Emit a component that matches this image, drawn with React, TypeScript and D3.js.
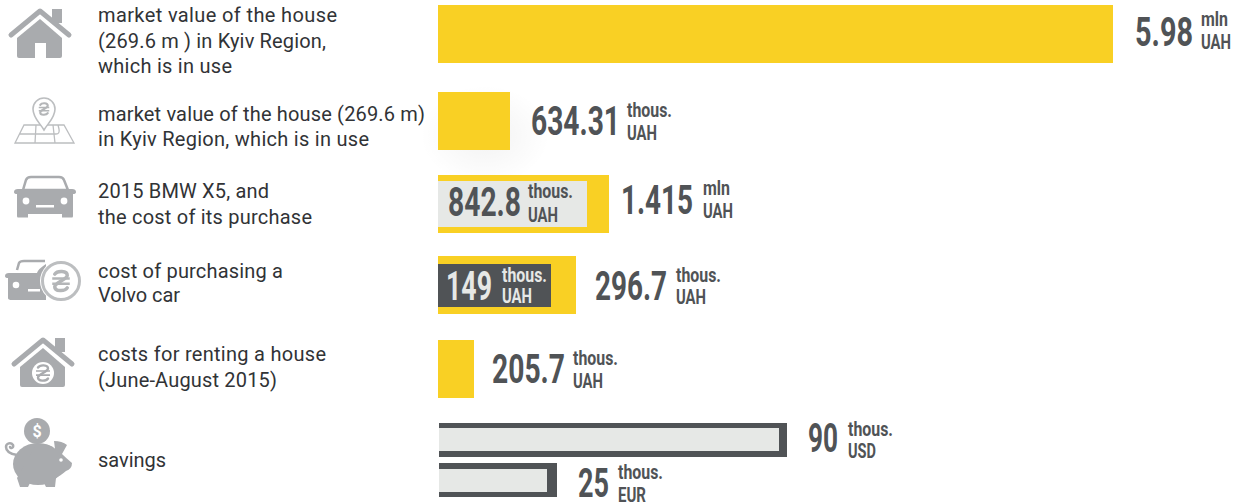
import React from "react";
import * as d3 from "d3";

// ---- data ----
const rowLabels = [
  ["market value of the house", "(269.6 m ) in Kyiv Region,", "which is in use"],
  ["market value of the house (269.6 m)", "in Kyiv Region, which is in use"],
  ["2015 BMW X5, and", "the cost of its purchase"],
  ["cost of purchasing a", "Volvo car"],
  ["costs for renting a house", "(June-August 2015)"],
  ["savings"],
];
// the source graphic's bars are not to scale: these are drawn lengths
const mainLengths = [675, 72, 171, 138, 36];
const mainValues = ["5.98", "634.31", "1.415", "296.7", "205.7"];
const mainUnits = ["mln", "thous.", "mln", "thous.", "thous."];
const insetLengths = [149, 113];
const insetValues = ["842.8", "149"];
const savingsLengths = [348, 118];
const savingsValues = ["90", "25"];
const savingsCurrencies = ["USD", "EUR"];

// ---- styling and layout ----
const YELLOW = "#f9d024";
const DARK = "#505356";
const LIGHT = "#e6e8e6";
const ICON = "#a9abae";
const TEXT = "#313336";
const SANS = "Roboto, 'Noto Sans', sans-serif";
const NARROW = "'Liberation Sans Narrow', 'Roboto', sans-serif";

const x = d3.scaleLinear().domain([0, 675]).range([438, 1113]);
const rowY = d3.scaleLinear().domain([0, 1, 2, 3, 4]).range([5, 92, 175, 256, 340]);
const BAR_H = 58;

const labelBaselines = [[22, 47.5, 73], [121, 146], [198, 224], [278, 302], [361, 387], [467]];
const labelWidths = [
  [239, 228, 134],
  [327, 271],
  [171, 214],
  [185, 82],
  [228, 179],
  [68],
];

const Num = ({ x: px, y, w, children, fill = DARK, size = 41 }: any) => (
  <text x={px} y={y} fill={fill} fontFamily={NARROW} fontWeight={700} fontSize={size}
    textLength={w} lengthAdjust="spacingAndGlyphs">{children}</text>
);
const Unit = ({ x: px, y, w, children, fill = DARK }: any) => (
  <text x={px} y={y} fill={fill} fontFamily={NARROW} fontWeight={700} fontSize={21}
    textLength={w} lengthAdjust="spacingAndGlyphs">{children}</text>
);

// value + unit + currency, with the widths
const ValueLabel = ({ nx, nw, ny, value, ux, unit, uy, cur = "UAH", cy, fill = DARK }: any) => (
  <g>
    <Num x={nx} y={ny} w={nw} fill={fill}>{value}</Num>
    <Unit x={ux} y={uy} w={unit === "mln" ? 27 : 45} fill={fill}>{unit}</Unit>
    <Unit x={ux} y={cy} w={cur === "UAH" ? 30 : 28} fill={fill}>{cur}</Unit>
  </g>
);

const Hryvnia = ({ cx, cy, s = 1, color = ICON, w = 2.4 }: any) => (
  <g transform={`translate(${cx},${cy}) scale(${s})`} fill="none" stroke={color} strokeWidth={w} strokeLinecap="round">
    <path d="M-5,-5.500 C-3,-8.500 5,-8.500 5,-4.500 C5,-1.500 -5,1.500 -5,4.500 C-5,8.500 3,8.500 5,5.500" />
    <path d="M-7,-2 H7 M-7,2.200 H7" strokeWidth={w * 0.7} strokeLinecap="butt" />
  </g>
);

const HouseIcon = ({ dx, dy, s = 1, coin = false }: any) => (
  <g transform={`translate(${dx},${dy}) scale(${s})`}>
    <path d="M11,35 L40,11 L69,35" fill="none" stroke={ICON} strokeWidth={5} strokeLinecap="round" strokeLinejoin="round" />
    <rect x={52} y={9} width={10} height={14} fill={ICON} />
    <path d="M17,38 L40,19 L62,38 V56 Q62,58 60,58 H19 Q17,58 17,56 Z" fill={ICON} />
    {coin ? (
      <>
        <circle cx={40} cy={44} r={11} fill="#fff" />
        <Hryvnia cx={40} cy={44} />
      </>
    ) : (
      <rect x={35} y={43} width={11} height={15} fill="#fff" />
    )}
  </g>
);

const MapIcon = () => (
  <g fill="none" stroke="#bcbec0" strokeWidth={1.3}>
    <path d="M24,125 H64 L74,143 H15 Z M36,125 L35,143 M53,125 L55,143 M20,134 H56 Q60,134 59,129 L58,125" />
    <path d="M44,130 C40,123 33,118 33,109 A11,11 0 1 1 55,109 C55,118 48,123 44,130 Z" fill="#fff" strokeWidth={1.6} />
    <Hryvnia cx={44} cy={109} s={0.75} color="#b4b6b8" w={2.8} />
  </g>
);

const CarIcon = () => (
  <g fill={ICON}>
    <path d="M23,190 L26,180 Q27,177 31,177 H59 Q63,177 64,180 L68,190 Z" fill="none" stroke={ICON} strokeWidth={2.5} />
    <path d="M14,192 Q14,189 18,189 H23 Q33,189 45,189 Q57,189 67,189 H72 Q76,189 76,192 Q76,194 73,194 V216 Q73,217.500 72,217.500 H62 V214 H28 V217.500 H18 Q17,217.500 17,216 V194 Q14,194 14,192 Z" />
    <circle cx={26} cy={201} r={3.400} fill="#fff" />
    <circle cx={64} cy={201} r={3.400} fill="#fff" />
    <rect x={36} y={205} width={18} height={2.500} fill="#fff" />
  </g>
);

const CarCoinIcon = () => (
  <g>
    <path d="M17,270 L19,263 Q20,261 24,261 H45" fill="none" stroke={ICON} strokeWidth={2.500} />
    <path d="M5,276 Q5,273 9,273 H37 Q38,269 46,264 V300 H12 Q8,300 8,298 V278 Q5,278 5,276 Z" fill={ICON} />
    <circle cx={16} cy={285} r={3.300} fill="#fff" />
    <rect x={28} y={289} width={12} height={2.500} fill="#fff" />
    <circle cx={61} cy={281} r={21} fill="#fff" />
    <circle cx={61} cy={281} r={18.500} fill="none" stroke="#bcbec0" strokeWidth={3} />
    <Hryvnia cx={61} cy={281} s={1.25} color="#b4b6b8" w={2.800} />
  </g>
);

const PigIcon = () => (
  <g fill={ICON}>
    <circle cx={37} cy={431} r={13} />
    <text x={37} y={437} textAnchor="middle" fill="#fff" fontFamily={SANS} fontWeight={700} fontSize={16}>$</text>
    <ellipse cx={38} cy={464} rx={25} ry={21} />
    <path d="M36,445 Q50,443 55,449 L54,441 Q62,441 67,445 L62,454 Q66,458 72,463 Q72,469 66,471 Q60,476 56,478 L55,487 Q53,487 46,487 L44,483 H30 L28,487 H20 L17,478 Z" />
    <path d="M17,455 C11,454 6,452 6,447 C6,443 11,442 13,445 C14,448 10,449 10,447" fill="none" stroke={ICON} strokeWidth={2.500} strokeLinecap="round" />
    <circle cx={61} cy={460} r={1.800} fill="#fff" />
  </g>
);

export default function App() {
  React.useEffect(() => {
    document.body.style.margin = "0";
  }, []);

  const lens = mainLengths.map((l) => x(l) - x(0));
  return (
    <svg width={1239} height={504} style={{ display: "block", background: "#fff" }}>
      <defs>
        <radialGradient id="glow">
          <stop offset="0%" stopColor="#000" stopOpacity={0.05} />
          <stop offset="100%" stopColor="#000" stopOpacity={0} />
        </radialGradient>
      </defs>
      <ellipse cx={485} cy={135} rx={65} ry={50} fill="url(#glow)" />

      {/* row labels */}
      {rowLabels.map((lines, r) =>
        lines.map((line, i) => (
          <text key={`${r}-${i}`} x={98} y={labelBaselines[r][i]} fill={TEXT} fontFamily={SANS}
            fontSize={20} textLength={labelWidths[r][i]} lengthAdjust="spacing">{line}</text>
        ))
      )}

      {/* icons */}
      <HouseIcon dx={0} dy={0} />
      <MapIcon />
      <CarIcon />
      <CarCoinIcon />
      <HouseIcon dx={3} dy={329} coin />
      <PigIcon />

      {/* main bars */}
      {mainLengths.map((l, i) => (
        <rect key={i} x={x(0)} y={rowY(i)} width={lens[i]} height={BAR_H} fill={YELLOW} />
      ))}

      {/* insets */}
      <rect x={x(0)} y={181} width={x(insetLengths[0]) - x(0)} height={46} fill={LIGHT} />
      <rect x={x(0)} y={264} width={x(insetLengths[1]) - x(0)} height={43} fill={DARK} />

      {/* savings bars */}
      {savingsLengths.map((l, i) => {
        const top = i === 0 ? 423 : 463;
        const end = i === 0 ? 8 : 10;
        return (
          <g key={i}>
            <rect x={x(0) + 1} y={top} width={l} height={34} fill={DARK} />
            <rect x={x(0) + 1} y={top + (i === 0 ? 5 : 6)} width={l - end} height={23} fill={LIGHT} />
          </g>
        );
      })}

      {/* values */}
      <ValueLabel nx={1135} nw={58} ny={46} value={mainValues[0]} ux={1201} unit={mainUnits[0]} uy={26} cy={49} />
      <ValueLabel nx={531} nw={89} ny={135} value={mainValues[1]} ux={627} unit={mainUnits[1]} uy={117} cy={140} />
      <ValueLabel nx={621} nw={72} ny={214} value={mainValues[2]} ux={703} unit={mainUnits[2]} uy={195} cy={218} />
      <ValueLabel nx={595} nw={72} ny={300} value={mainValues[3]} ux={676} unit={mainUnits[3]} uy={282} cy={304} />
      <ValueLabel nx={492} nw={73} ny={383} value={mainValues[4]} ux={573} unit={mainUnits[4]} uy={365} cy={388} />

      <ValueLabel nx={448} nw={73} ny={216} value={insetValues[0]} ux={528} unit="thous." uy={198} cy={222} />
      <ValueLabel nx={446} nw={46} ny={300} value={insetValues[1]} ux={502} unit="thous." uy={282} cy={303} fill="#e6e8e6" />

      <ValueLabel nx={808} nw={30} ny={452} value={savingsValues[0]} ux={848} unit="thous." uy={436} cur={savingsCurrencies[0]} cy={458} />
      <ValueLabel nx={578} nw={31} ny={497} value={savingsValues[1]} ux={618} unit="thous." uy={479} cur={savingsCurrencies[1]} cy={502} />
    </svg>
  );
}
